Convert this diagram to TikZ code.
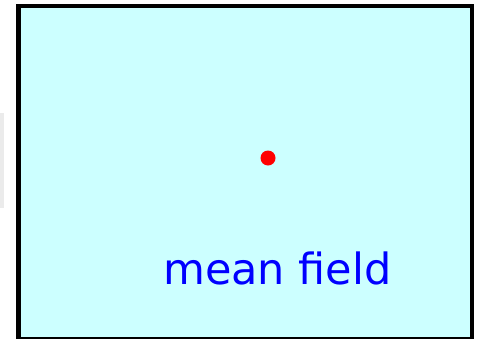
\documentclass[tikz,border=0pt]{standalone}
\usepackage{fontspec}
\setmainfont{DejaVu Sans}
\usepackage{tikz}
\usetikzlibrary{positioning}
\definecolor{fieldcyan}{HTML}{CCFFFF}
\definecolor{sidegray}{HTML}{EBEBEB}
\tikzstyle{frame}=[draw=black, line width=4.5pt, fill=fieldcyan]

\begin{document}
\begin{tikzpicture}[x=1pt, y=-1pt,
  particle/.style={circle, fill=red, inner sep=0pt, minimum size=15pt},
  caption/.style={text=blue, font=\fontsize{43}{48}\selectfont, inner sep=0pt}
]
\useasboundingbox (0,0) rectangle (479,338);
\fill[sidegray] (0,113) rectangle (4,208);
\draw[frame] (18.5,6) rectangle (472,339);
\node[particle] (dot) at (268,158) {};
\node[caption, anchor=base] (label) at (277.5,284.5) {mean field};
\end{tikzpicture}
\end{document}
